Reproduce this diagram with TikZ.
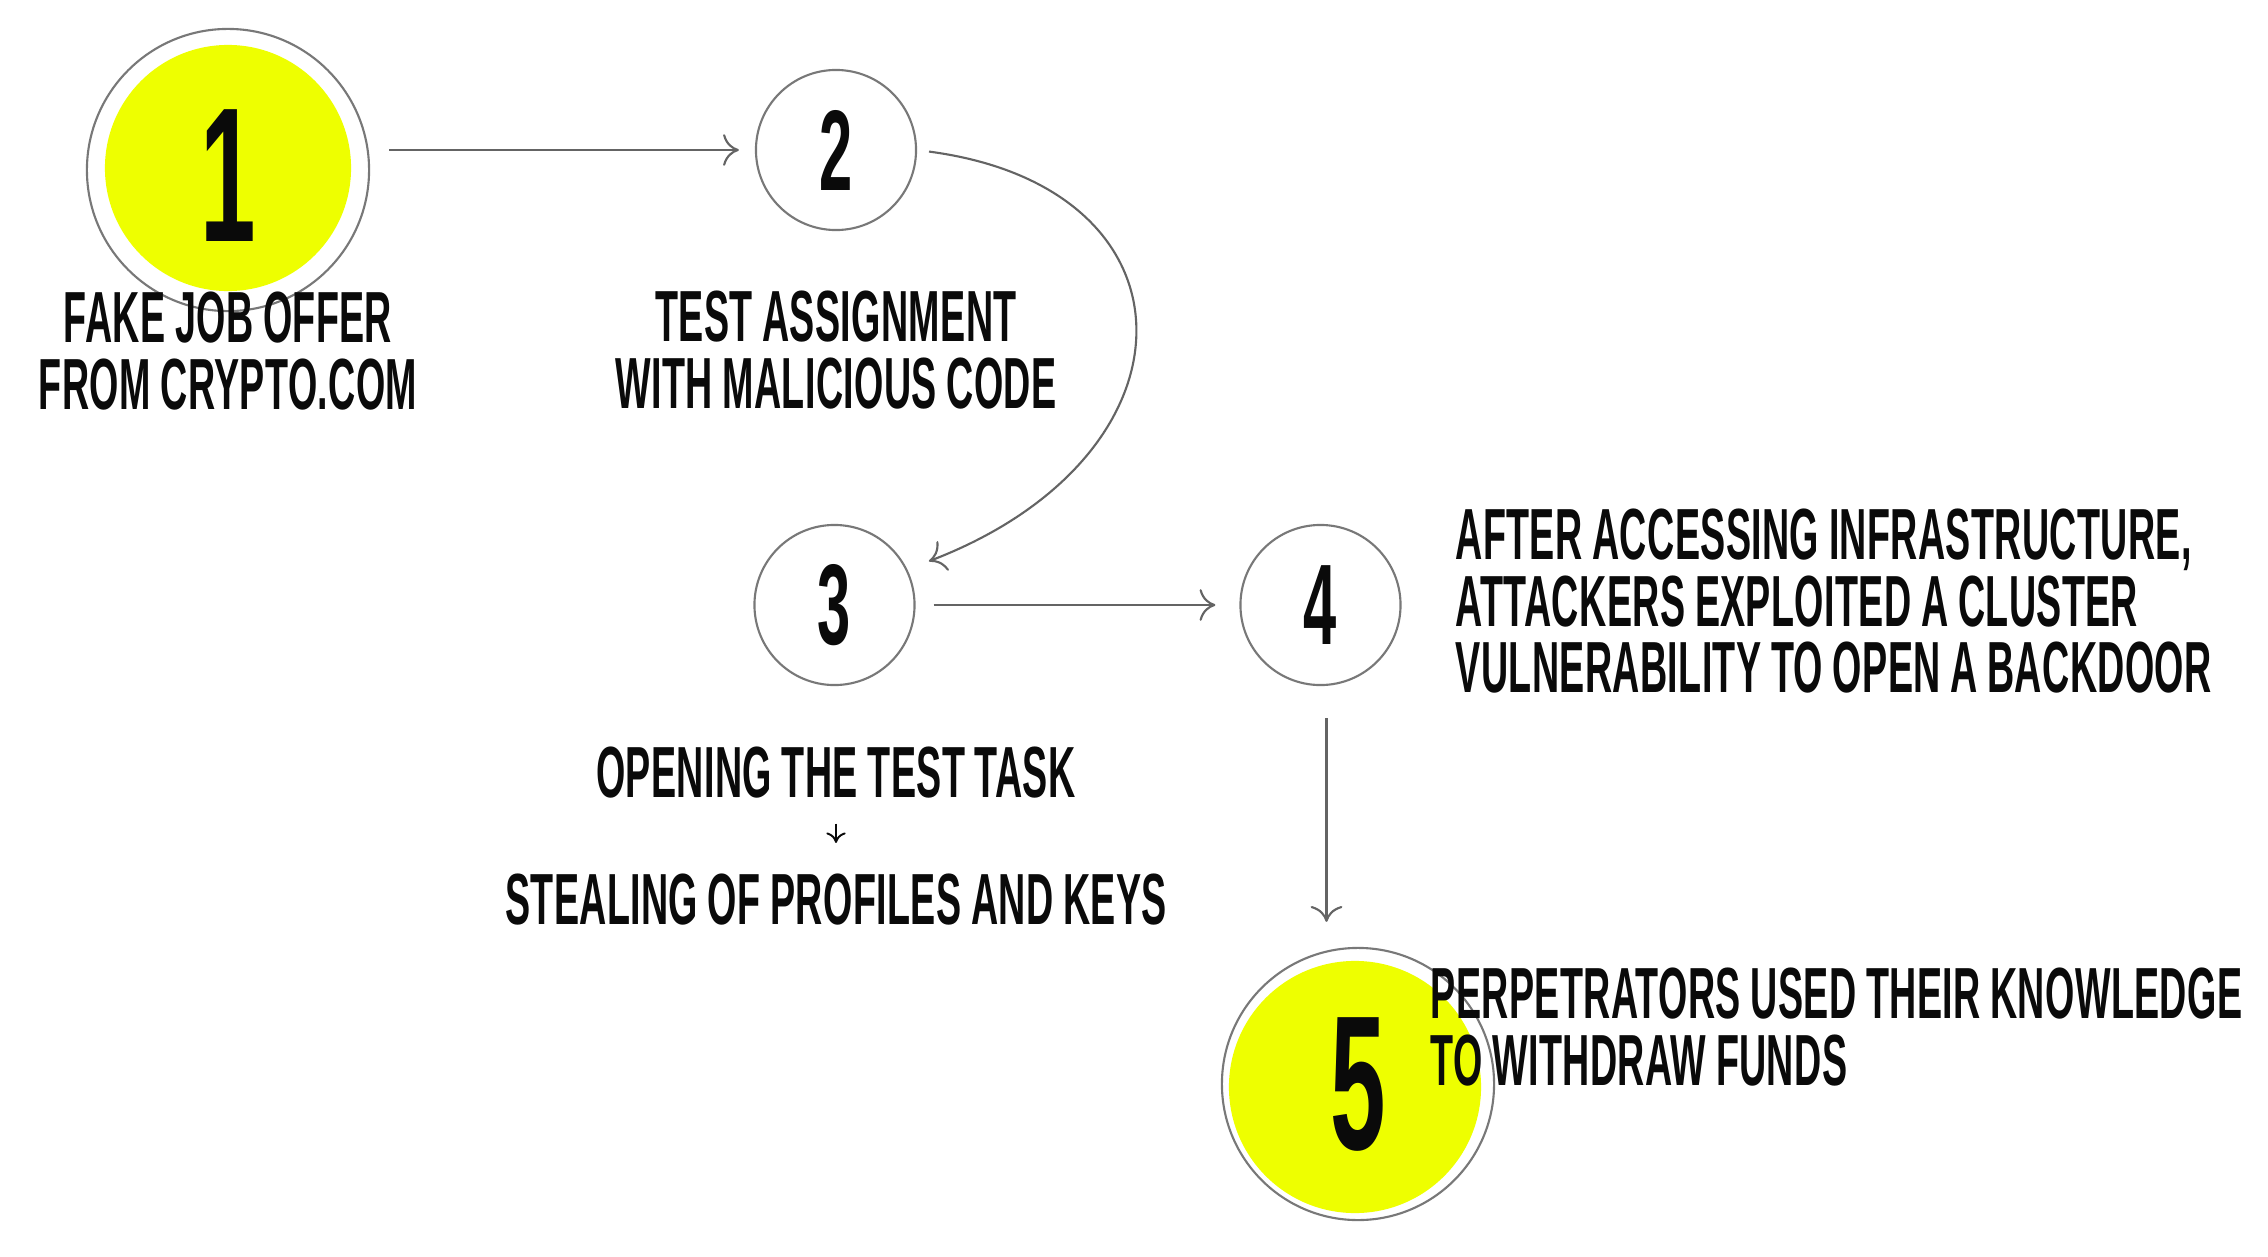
\documentclass[tikz,border=0pt]{standalone}
\usepackage{fontspec}
\usetikzlibrary{arrows.meta}
\newfontfamily\condfont{Liberation Sans Bold}[FakeStretch=0.52, WordSpace=0.9, LetterSpace=0.5]

\definecolor{hiyellow}{RGB}{238,255,0}
\definecolor{ringgray}{RGB}{120,120,120}
\definecolor{arrowgray}{RGB}{100,100,100}
\definecolor{inkblack}{RGB}{10,10,10}

\tikzset{
  ring/.style={circle, draw=ringgray, line width=0.6pt, inner sep=0pt,
    minimum size=1.6cm, text=inkblack,
    font=\condfont\fontsize{32.6pt}{32.6pt}\selectfont},
  bigring/.style={ring, minimum size=2.82cm,
    font=\condfont\fontsize{54.5pt}{54.5pt}\selectfont},
  disc/.style={circle, fill=hiyellow, inner sep=0pt},
  caption/.style={inner sep=0pt, text=inkblack,
    font=\condfont\fontsize{20.6pt}{19pt}\selectfont},
  flow/.style={draw=arrowgray, line width=0.6pt,
    -{Computer Modern Rightarrow[length=4.5pt,width=9pt]}},
  minor/.style={draw=inkblack, line width=0.55pt,
    -{Computer Modern Rightarrow[length=3pt,width=5.5pt]}},
}

\begin{document}
\begin{tikzpicture}[x=0.01cm,y=-0.01cm]
  % canvas
  \path[fill=white] (0,0) rectangle (2268,1257);

  % highlighted first and last steps
  \node[disc, minimum size=2.46cm] (d1) at (228,168) {};
  \node[bigring] (c1) at (228,170) {\raisebox{-0.06cm}[\height][\depth]{1}};
  \node[disc, minimum size=2.52cm] (d5) at (1355,1087) {};
  \node[bigring, minimum size=2.72cm] (c5) at (1358,1084) {5};

  % intermediate steps
  \node[ring] (c2) at (836,150) {2};
  \node[ring] (c3) at (834.5,605) {3};
  \node[ring] (c4) at (1320.5,605) {4};

  % step descriptions
  \node[caption, anchor=north, align=center] (t1) at (228,291)
    {FAKE JOB OFFER\\FROM CRYPTO.COM};
  \node[caption, anchor=north, align=center] (t2) at (836,290)
    {TEST ASSIGNMENT\\WITH MALICIOUS CODE};
  \node[caption, anchor=north] (t3a) at (836,746) {OPENING THE TEST TASK};
  \node[caption, anchor=north] (t3b) at (836,873) {STEALING OF PROFILES AND KEYS};
  \node[caption, anchor=north west, align=left] (t4) at (1455,508)
    {AFTER ACCESSING INFRASTRUCTURE,\\ATTACKERS EXPLOITED A CLUSTER\\VULNERABILITY TO OPEN A BACKDOOR};
  \node[caption, anchor=north west, align=left] (t5) at (1430,967)
    {PERPETRATORS USED THEIR KNOWLEDGE\\TO WITHDRAW FUNDS};

  % flow between steps
  \draw[flow, shorten <=0.19cm, shorten >=0.16cm] (c1.east |- c2.west) -- (c2.west);
  \draw[flow, shorten <=0.12cm, shorten >=0.23cm]
    (c2.east) .. controls +(288,38) and +(298,-114) .. (c3.26.5);
  \draw[flow, shorten <=0.18cm, shorten >=0.24cm] (c3.east) -- (c4.west);
  \coordinate (drop) at ([xshift=0.06cm]c4.south);
  \draw[flow, shorten <=0.32cm, shorten >=0.25cm] (drop) -- (drop |- c5.north);
  \draw[minor, shorten <=0.25cm, shorten >=0.3cm] (t3a.south) -- (t3b.north);
\end{tikzpicture}
\end{document}
